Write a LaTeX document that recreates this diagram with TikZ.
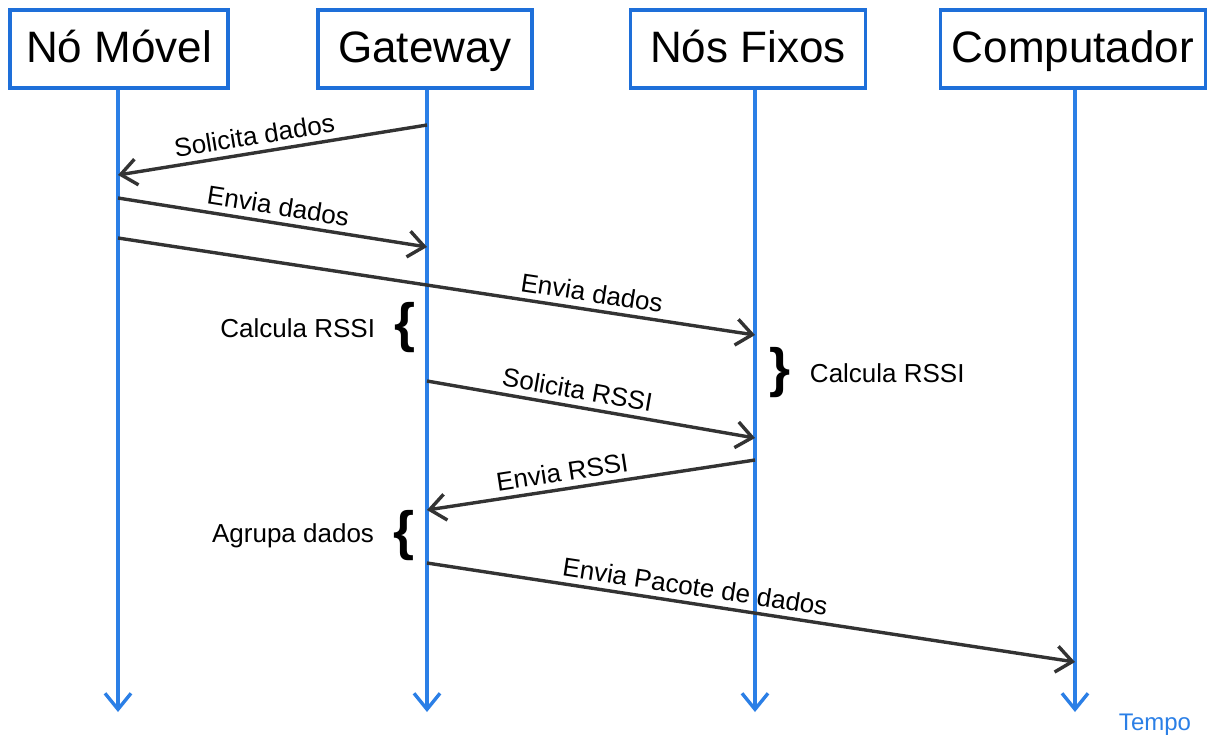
\documentclass[tikz,border=0pt]{standalone}
\usepackage{fontspec}
\setmainfont{Liberation Sans}
\usetikzlibrary{arrows.meta,positioning,calc}
\definecolor{lifeblue}{HTML}{2B7FE6}
\definecolor{boxblue}{HTML}{1E6FD9}
\definecolor{msggray}{HTML}{333333}

\tikzset{
  actor/.style={draw=boxblue, line width=1.8pt, fill=white, minimum height=39pt, inner sep=0pt, text height=17pt, text depth=4pt, font=\fontsize{22}{26}\selectfont},
  lifeline/.style={draw=lifeblue, line width=1.7pt, -{Straight Barb[length=8pt,width=13pt]}},
  msg/.style={draw=msggray, line width=1.7pt, -{Straight Barb[length=8pt,width=13pt]}},
  msglabel/.style={sloped, above, inner sep=3pt, font=\fontsize{13}{15}\selectfont},
  note/.style={font=\fontsize{13}{15}\selectfont},
  bracemark/.style={inner sep=0pt, font=\fontsize{27}{30}\selectfont\bfseries}
}

\begin{document}
\begin{tikzpicture}[x=0.5pt, y=-0.5pt]
\useasboundingbox (0,0) rectangle (1216,740);

% participants
\node[actor, minimum width=109pt] (movel) at (119,49) {Nó Móvel};
\node[actor, minimum width=107pt] (gateway) at (425,49) {Gateway};
\node[actor, minimum width=117.5pt] (fixos) at (748,49) {Nós Fixos};
\node[actor, minimum width=132.5pt] (comp) at (1073,49) {Computador};

% time lines
\coordinate (movel-end) at (118,712);
\coordinate (gateway-end) at (427,712);
\coordinate (fixos-end) at (755,712);
\coordinate (comp-end) at (1075,712);
\draw[lifeline] (movel.south -| movel-end) -- (movel-end);
\draw[lifeline] (gateway.south -| gateway-end) -- (gateway-end);
\draw[lifeline] (fixos.south -| fixos-end) -- (fixos-end);
\draw[lifeline] (comp.south -| comp-end) -- (comp-end);
\node[note, text=lifeblue, font=\fontsize{12}{14}\selectfont] (tempo) at (1155,725) {Tempo};

% messages
\draw[msg] (gateway-end |- 0,125) -- node[msglabel, pos=0.55] {Solicita dados} (movel-end |- 0,175);
\draw[msg] (movel-end |- 0,198) -- node[msglabel, pos=0.51] {Envia dados} (gateway-end |- 0,247);
\draw[msg] (movel-end |- 0,238) -- node[msglabel, pos=0.74] {Envia dados} (fixos-end |- 0,335);
\draw[msg] (gateway-end |- 0,381) -- node[msglabel, pos=0.45] {Solicita RSSI} (fixos-end |- 0,438);
\draw[msg] (fixos-end |- 0,460) -- node[msglabel, pos=0.58] {Envia RSSI} (gateway-end |- 0,510);
\draw[msg] (gateway-end |- 0,563) -- node[msglabel, pos=0.41] {Envia Pacote de dados} (comp-end |- 0,662);

% processing
\node[bracemark] (calc-gw) at (405,328) {\{};
\node[note, left=6pt of calc-gw] (calc-gw-txt) {Calcula RSSI};
\node[bracemark] (calc-nf) at (780,373) {\}};
\node[note, right=6pt of calc-nf] (calc-nf-txt) {Calcula RSSI};
\node[bracemark] (agrupa) at (404,536) {\{};
\node[note, left=6pt of agrupa] (agrupa-txt) {Agrupa dados};
\end{tikzpicture}
\end{document}
